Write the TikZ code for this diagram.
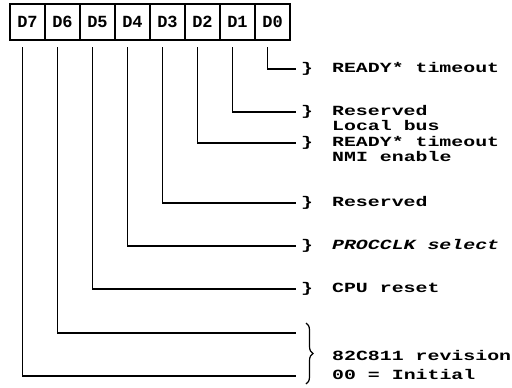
\documentclass[tikz,border=0pt]{standalone}
\usepackage{fontspec}
\newfontfamily\dotfont[FakeStretch=1.42]{Liberation Mono}
\newfontfamily\bitfont{Liberation Mono}
\usepackage{tikz}
\usetikzlibrary{positioning}
\usetikzlibrary{decorations.pathreplacing}
\tikzstyle{bit} = [rectangle, draw=black, line width=1.2pt, minimum width=35pt, minimum height=36pt, inner sep=0pt, outer sep=0pt, font=\bitfont\bfseries\fontsize{17}{17}\selectfont]
\tikzstyle{link} = [line width=1.4pt, -]
\tikzstyle{field} = [anchor=west, inner xsep=5pt, inner ysep=0pt, text height=9pt, text depth=2pt, font=\dotfont\bfseries\fontsize{14}{14}\selectfont]
\tikzstyle{more} = [field, inner xsep=0pt]
\newcommand{\fieldbrace}{\}\hspace{19pt}}

\begin{document}
\begin{tikzpicture}[x=1pt, y=-1pt]
\useasboundingbox (0,0) rectangle (512,388);
\node (d7) [bit] at (27.5,22) {D7};
\node (d6) [bit, right=0pt of d7] {D6};
\node (d5) [bit, right=0pt of d6] {D5};
\node (d4) [bit, right=0pt of d5] {D4};
\node (d3) [bit, right=0pt of d4] {D3};
\node (d2) [bit, right=0pt of d3] {D2};
\node (d1) [bit, right=0pt of d2] {D1};
\node (d0) [bit, right=0pt of d1] {D0};
% field texts
\node (r0) [field] at (296,69) {\fieldbrace READY* timeout};
\node (r1) [field] at (296,112) {\fieldbrace Reserved};
\node (r1b) [more] at (332,127) {Local bus};
\node (r2) [field] at (296,143) {\fieldbrace READY* timeout};
\node (r2b) [more] at (332,158) {NMI enable};
\node (r3) [field] at (296,203) {\fieldbrace Reserved};
\node (r4) [field] at (296,246) {\fieldbrace \textit{PROCCLK select}};
\node (r5) [field] at (296,289) {\fieldbrace CPU reset};
\node (r6) [more] at (332,357) {82C811 revision};
\node (r6b) [more] at (332,376) {00 = Initial};
\coordinate (e6) at (296,333);
\coordinate (e7) at (296,376);
% bit lines
\draw [link] ([xshift=-5pt,yshift=-7pt]d0.south) |- (r0.west);
\draw [link] ([xshift=-5pt,yshift=-7pt]d1.south) |- (r1.west);
\draw [link] ([xshift=-5pt,yshift=-7pt]d2.south) |- (r2.west);
\draw [link] ([xshift=-5pt,yshift=-7pt]d3.south) |- (r3.west);
\draw [link] ([xshift=-5pt,yshift=-7pt]d4.south) |- (r4.west);
\draw [link] ([xshift=-5pt,yshift=-7pt]d5.south) |- (r5.west);
\draw [link] ([xshift=-5pt,yshift=-7pt]d6.south) |- (e6);
\draw [link] ([xshift=-5pt,yshift=-7pt]d7.south) |- (e7);
\draw [line width=1.2pt, decorate, decoration={brace, amplitude=7pt}] (306,323) -- (306,384);
\end{tikzpicture}
\end{document}
